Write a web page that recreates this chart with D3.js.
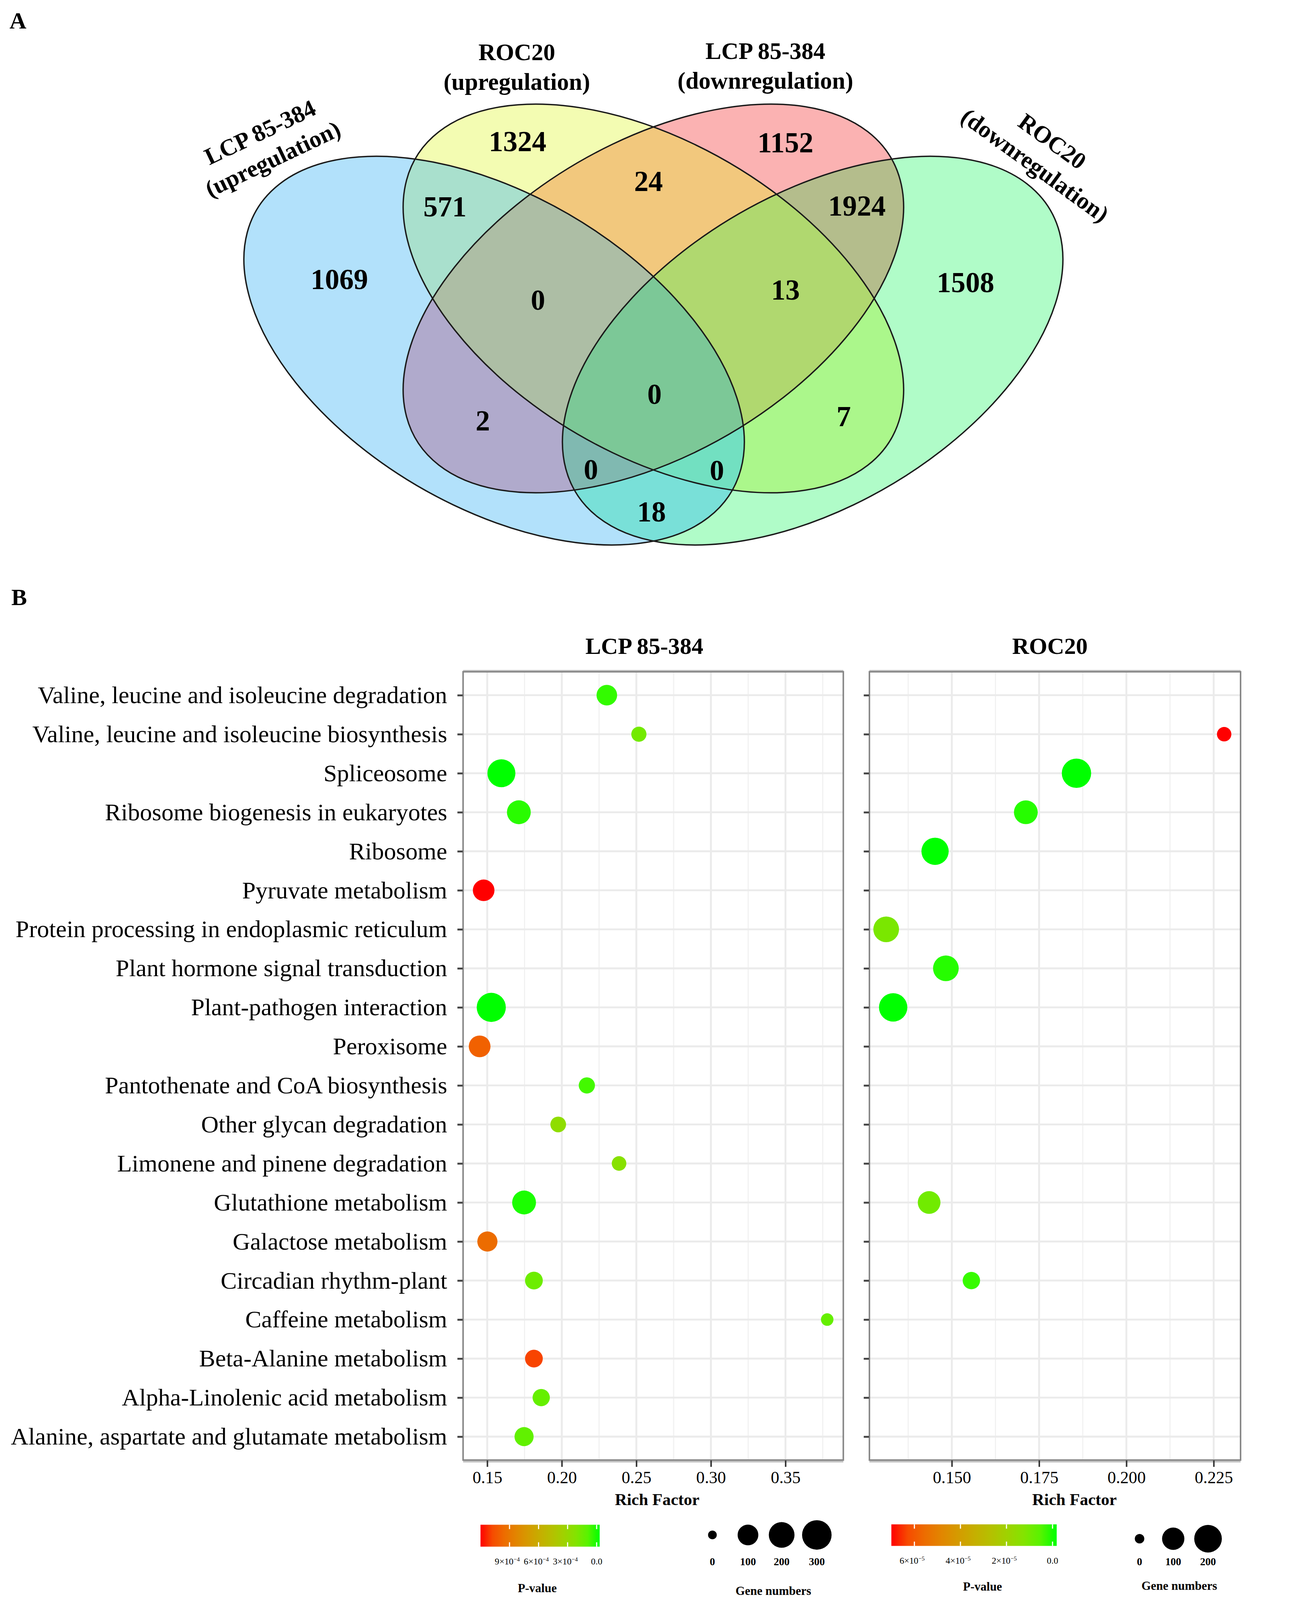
<!DOCTYPE html>
<html>
<head>
<meta charset="utf-8">
<script src="https://cdn.jsdelivr.net/npm/d3@7"></script>
<style>
html, body { margin: 0; padding: 0; background: #fff; overflow: hidden; }
svg { display: block; }
text { font-family: "Liberation Serif", "Times New Roman", serif; fill: #000; }
</style>
</head>
<body>
<svg id="chart"></svg>
<script>
// ---------- data: panel A (Venn) ----------
let setLabels = [["LCP 85-384", "(upregulation)"], ["ROC20", "(upregulation)"],
                 ["LCP 85-384", "(downregulation)"], ["ROC20", "(downregulation)"]];
let regionSets   = ["A", "B", "C", "D", "AB", "BC", "CD", "AC", "BD", "AD", "ABC", "BCD", "ACD", "ABD", "ABCD"];
let regionCounts = [1069, 1324, 1152, 1508, 571, 24, 1924, 2, 7, 18, 0, 13, 0, 0, 0];

// ---------- data: panel B (KEGG bubbles) ----------
let pathways = [
    "Valine, leucine and isoleucine degradation",
    "Valine, leucine and isoleucine biosynthesis",
    "Spliceosome",
    "Ribosome biogenesis in eukaryotes",
    "Ribosome",
    "Pyruvate metabolism",
    "Protein processing in endoplasmic reticulum",
    "Plant hormone signal transduction",
    "Plant-pathogen interaction",
    "Peroxisome",
    "Pantothenate and CoA biosynthesis",
    "Other glycan degradation",
    "Limonene and pinene degradation",
    "Glutathione metabolism",
    "Galactose metabolism",
    "Circadian rhythm-plant",
    "Caffeine metabolism",
    "Beta-Alanine metabolism",
    "Alpha-Linolenic acid metabolism",
    "Alanine, aspartate and glutamate metabolism"
];
let lcpRich  = [0.2302, 0.2517, 0.1595, 0.1712, null, 0.1476, null, null, 0.1527, 0.1449,
                0.2168, 0.1976, 0.2384, 0.1747, 0.1501, 0.1813, 0.378, 0.1813, 0.1862, 0.1747];
let lcpPval  = [3e-5, 1.6e-4, 0, 2e-5, null, 1.2e-3, null, null, 0, 1.0e-3,
                5e-5, 2.6e-4, 2.3e-4, 1e-5, 9.5e-4, 1.4e-4, 1.2e-4, 1.1e-3, 1.2e-4, 1.1e-4];
let lcpGenes = [98, 29, 258, 159, null, 115, null, null, 289, 118,
                39, 34, 24, 159, 91, 57, 10, 57, 51, 75];

let rocRich  = [null, 0.2280, 0.1857, 0.1712, 0.1452, null, 0.1312, 0.1483, 0.1332, null,
                null, null, null, 0.1435, null, 0.1556, null, null, null, null];
let rocPval  = [null, 7e-5, 0, 1e-6, 0, null, 1.05e-5, 1e-6, 0, null,
                null, null, null, 9e-6, null, 2e-6, null, null, null, null];
let rocGenes = [null, 15, 240, 125, 192, null, 160, 160, 217, null,
                null, null, null, 106, null, 38, null, null, null, null];

let lcpTicks = [0.15, 0.20, 0.25, 0.30, 0.35];
let rocTicks = [0.150, 0.175, 0.200, 0.225];
let lcpPBreaks = [9e-4, 6e-4, 3e-4, 0];
let rocPBreaks = [6e-5, 4e-5, 2e-5, 0];
let lcpSizeBreaks = [0, 100, 200, 300];
let rocSizeBreaks = [0, 100, 200];

// ---------- layout ----------
const W = 3317, H = 4230;
// fit the whole figure into whatever viewport we actually get
const fit = Math.min(1, window.innerWidth / W, window.innerHeight / H);
const svg = d3.select("#chart")
    .attr("viewBox", `0 0 ${W} ${H}`)
    .attr("width", W * fit).attr("height", H * fit);
svg.append("rect").attr("width", W).attr("height", H).attr("fill", "#fff");
const defs = svg.append("defs");

// ================= Panel A =================
svg.append("text").attr("x", 25).attr("y", 75).attr("font-size", 62)
    .attr("font-weight", "bold").text("A");

const vennEll = [
    {set: "A", cx: 1306, cy: 927, rot: 45},
    {set: "B", cx: 1727, cy: 789, rot: 45},
    {set: "C", cx: 1727, cy: 789, rot: -45},
    {set: "D", cx: 2148, cy: 927, rot: -45}
];
const regionColor = {
    A: "#b2e1fb", B: "#f3fcb2", C: "#fbb2b2", D: "#b0fcc8",
    AB: "#a9e0cd", BC: "#f2c87d", CD: "#b4bd8c", AC: "#b0aacc", BD: "#abf78b", AD: "#79e0d8",
    ABC: "#adbea5", BCD: "#b0d86f", ACD: "#80b9b1", ABD: "#72e0c1", ABCD: "#7cc897"
};
const regionPos = {
    A: [897, 738], B: [1368, 373], C: [2076, 376], D: [2552, 746],
    AB: [1176, 546], BC: [1714, 478], CD: [2265, 543], AC: [1276, 1111], BD: [2230, 1100],
    AD: [1722, 1352], ABC: [1422, 792], BCD: [2076, 765], ACD: [1562, 1241], ABD: [1895, 1243],
    ABCD: [1730, 1041]
};

function addEllipse(sel, e) {
    return sel.append("ellipse")
        .attr("rx", 1).attr("ry", 0.6)
        .attr("transform", `translate(${e.cx},${e.cy}) scale(802,623) rotate(${e.rot})`);
}

vennEll.forEach(e => addEllipse(defs.append("clipPath").attr("id", "clip" + e.set), e));

const venn = svg.append("g");
regionSets.forEach(r => {
    let excluded = vennEll.filter(e => !r.includes(e.set));
    let m = defs.append("mask").attr("id", "mask" + r)
        .attr("maskUnits", "userSpaceOnUse")
        .attr("x", 0).attr("y", 0).attr("width", W).attr("height", 1600);
    m.append("rect").attr("width", W).attr("height", 1600).attr("fill", "white");
    excluded.forEach(e => addEllipse(m, e).attr("fill", "black"));

    let g = venn;
    r.split("").forEach(s => { g = g.append("g").attr("clip-path", `url(#clip${s})`); });
    g.append("rect").attr("width", W).attr("height", 1600)
        .attr("fill", regionColor[r]).attr("mask", `url(#mask${r})`);
});

vennEll.forEach(e => {
    addEllipse(venn, e).attr("fill", "none").attr("stroke", "#1a1a1a")
        .attr("stroke-width", 3.5).attr("vector-effect", "non-scaling-stroke");
});

venn.selectAll("text.count").data(regionSets).enter().append("text")
    .attr("class", "count")
    .attr("x", d => regionPos[d][0]).attr("y", d => regionPos[d][1])
    .attr("dy", "0.35em").attr("text-anchor", "middle")
    .attr("font-size", 76).attr("font-weight", "bold")
    .text((d, i) => regionCounts[i]);

// set labels: [x, y, rotation] of first line
const labelPos = [[687, 349, -25.5], [1366, 137, 0], [2023, 134, 0], [2782, 373, 36]];
setLabels.forEach((lines, i) => {
    let p = labelPos[i];
    let g = svg.append("g").attr("transform", `translate(${p[0]},${p[1]}) rotate(${p[2]})`);
    lines.forEach((t, j) => {
        g.append("text").attr("x", 0).attr("y", j * 78).attr("dy", "0.35em")
            .attr("text-anchor", "middle").attr("font-size", 63).attr("font-weight", "bold")
            .text(t);
    });
});

// ================= Panel B =================
svg.append("text").attr("x", 30).attr("y", 1600).attr("font-size", 62)
    .attr("font-weight", "bold").text("B");

const panelTop = 1776, panelBottom = 3860;
const y = d3.scalePoint().domain(pathways).range([panelTop, panelBottom]).padding(0.6);

function pLabel(sel, v) {
    if (v === 0) { sel.text("0.0"); return; }
    let e = Math.floor(Math.log10(v) + 1e-9);
    let m = Math.round(v / Math.pow(10, e));
    sel.append("tspan").text(m + "×10");
    sel.append("tspan").attr("font-size", "0.65em").attr("dy", "-0.55em").text("−" + (-e));
}

function drawPanel(opt) {
    const x = d3.scaleLinear().domain(opt.domain).range([opt.x0, opt.x1]);
    const g = svg.append("g");

    // grid
    let minor = [];
    let step = opt.ticks[1] - opt.ticks[0];
    opt.ticks.forEach((t, i) => {
        minor.push(t - step / 2);
        if (i === opt.ticks.length - 1) minor.push(t + step / 2);
    });
    minor = minor.filter(v => v > opt.domain[0] && v < opt.domain[1]);
    g.selectAll("line.minor").data(minor).enter().append("line")
        .attr("x1", d => x(d)).attr("x2", d => x(d)).attr("y1", panelTop).attr("y2", panelBottom)
        .attr("stroke", "#f1f1f1").attr("stroke-width", 3);
    g.selectAll("line.vmajor").data(opt.ticks).enter().append("line")
        .attr("x1", d => x(d)).attr("x2", d => x(d)).attr("y1", panelTop).attr("y2", panelBottom)
        .attr("stroke", "#ebebeb").attr("stroke-width", 5);
    g.selectAll("line.hmajor").data(pathways).enter().append("line")
        .attr("x1", opt.x0).attr("x2", opt.x1).attr("y1", d => y(d)).attr("y2", d => y(d))
        .attr("stroke", "#ebebeb").attr("stroke-width", 5);

    // points
    const color = d3.scaleLinear().domain([0, opt.pMax]).range(["#00ff00", "#ff0000"])
        .interpolate(d3.interpolateLab).clamp(true);
    const size = d3.scaleSqrt().domain([0, opt.sizeMax]).range(opt.diam);
    const pts = pathways.map((p, i) => ({p: p, rich: opt.rich[i], pv: opt.pval[i], n: opt.genes[i]}))
        .filter(d => d.rich !== null);
    g.selectAll("circle.pt").data(pts).enter().append("circle")
        .attr("cx", d => x(d.rich)).attr("cy", d => y(d.p))
        .attr("r", d => size(d.n) / 2)
        .attr("fill", d => color(d.pv));

    // border
    g.append("line").attr("x1", opt.x0).attr("x2", opt.x1).attr("y1", panelTop - 3).attr("y2", panelTop - 3)
        .attr("stroke", "#c4c4c4").attr("stroke-width", 4);
    g.append("line").attr("x1", opt.x0).attr("x2", opt.x1).attr("y1", panelBottom + 4).attr("y2", panelBottom + 4)
        .attr("stroke", "#c4c4c4").attr("stroke-width", 5);
    g.append("rect").attr("x", opt.x0).attr("y", panelTop).attr("width", opt.x1 - opt.x0)
        .attr("height", panelBottom - panelTop).attr("fill", "none")
        .attr("stroke", "#858585").attr("stroke-width", 4);

    // axes
    const ax = svg.append("g").attr("transform", `translate(0,${panelBottom + 1})`)
        .call(d3.axisBottom(x).tickValues(opt.ticks).tickSize(17).tickPadding(11)
            .tickFormat(d3.format(opt.fmt)));
    ax.select(".domain").remove();
    ax.selectAll("line").attr("stroke", "#333").attr("stroke-width", 4);
    ax.selectAll("text").attr("font-size", 45).attr("font-family", null).attr("fill", "#000");

    const ay = svg.append("g").attr("transform", `translate(${opt.x0 - 1},0)`)
        .call(d3.axisLeft(y).tickSize(14).tickPadding(27));
    ay.select(".domain").remove();
    ay.selectAll("line").attr("stroke", "#444").attr("stroke-width", 5);
    if (opt.showLabels) {
        ay.selectAll("text").attr("font-size", 64).attr("font-family", null).attr("fill", "#000");
    } else {
        ay.selectAll("text").remove();
    }

    // titles
    svg.append("text").attr("x", opt.titleX).attr("y", 1729).attr("text-anchor", "middle")
        .attr("font-size", 62).attr("font-weight", "bold").text(opt.title);
    svg.append("text").attr("x", opt.xLabX).attr("y", 3979).attr("text-anchor", "middle")
        .attr("font-size", 44).attr("font-weight", "bold").text("Rich Factor");

    // colour bar legend
    const lb = opt.bar;
    const px = d3.scaleLinear().domain([opt.pMax, 0]).range([lb.x0, lb.xZero]);
    const gid = "grad" + opt.id;
    const grad = defs.append("linearGradient").attr("id", gid)
        .attr("gradientUnits", "userSpaceOnUse")
        .attr("x1", lb.x0).attr("x2", lb.x1).attr("y1", 0).attr("y2", 0);
    d3.range(0, 1.0001, 0.1).forEach(t => {
        let xv = lb.x0 + t * (lb.x1 - lb.x0);
        grad.append("stop").attr("offset", t).attr("stop-color", color(px.invert(xv)));
    });
    svg.append("rect").attr("x", lb.x0).attr("y", lb.y0).attr("width", lb.x1 - lb.x0)
        .attr("height", lb.y1 - lb.y0).attr("fill", `url(#${gid})`);
    const bh = lb.y1 - lb.y0;
    opt.pBreaks.forEach(v => {
        [[lb.y0, lb.y0 + bh * 0.2], [lb.y1 - bh * 0.2, lb.y1]].forEach(s => {
            svg.append("line").attr("x1", px(v)).attr("x2", px(v)).attr("y1", s[0]).attr("y2", s[1])
                .attr("stroke", "#fff").attr("stroke-width", 3);
        });
        svg.append("text").attr("x", px(v) - (v === 0 ? 0 : 6)).attr("y", lb.y1 + 47).attr("text-anchor", "middle")
            .attr("font-size", 24).call(pLabel, v);
    });
    svg.append("text").attr("x", lb.titleX).attr("y", lb.titleY).attr("text-anchor", "middle")
        .attr("font-size", 32).attr("font-weight", "bold").text("P-value");

    // size legend
    const sl = opt.sizeLeg;
    opt.sizeBreaks.forEach((v, i) => {
        svg.append("circle").attr("cx", sl.xs[i]).attr("cy", sl.cy).attr("r", size(v) / 2).attr("fill", "#000");
        svg.append("text").attr("x", sl.xs[i]).attr("y", sl.labY).attr("text-anchor", "middle")
            .attr("font-size", 28).attr("font-weight", "bold").text(v);
    });
    svg.append("text").attr("x", sl.titleX).attr("y", sl.titleY).attr("text-anchor", "middle")
        .attr("font-size", 32).attr("font-weight", "bold").text("Gene numbers");
}

drawPanel({
    id: "L", title: "LCP 85-384", titleX: 1703, xLabX: 1737,
    x0: 1224, x1: 2229, domain: [0.1338, 0.3888], ticks: lcpTicks, fmt: ".2f",
    rich: lcpRich, pval: lcpPval, genes: lcpGenes,
    pMax: 1.2e-3, sizeMax: 300, diam: [23, 78], showLabels: true,
    pBreaks: lcpPBreaks, sizeBreaks: lcpSizeBreaks,
    bar: {x0: 1270, x1: 1585, xZero: 1577, y0: 4031, y1: 4089, titleX: 1420, titleY: 4209},
    sizeLeg: {xs: [1883, 1977, 2066, 2159], cy: 4058, labY: 4138, titleX: 2044, titleY: 4217}
});
drawPanel({
    id: "R", title: "ROC20", titleX: 2775, xLabX: 2840,
    x0: 2298, x1: 3279, domain: [0.1264, 0.2327], ticks: rocTicks, fmt: ".3f",
    rich: rocRich, pval: rocPval, genes: rocGenes,
    pMax: 7e-5, sizeMax: 200, diam: [25, 73], showLabels: false,
    pBreaks: rocPBreaks, sizeBreaks: rocSizeBreaks,
    bar: {x0: 2356, x1: 2793, xZero: 2782, y0: 4030, y1: 4087, titleX: 2597, titleY: 4205},
    sizeLeg: {xs: [3012, 3101, 3193], cy: 4068, labY: 4138, titleX: 3117, titleY: 4203}
});
</script>
</body>
</html>
